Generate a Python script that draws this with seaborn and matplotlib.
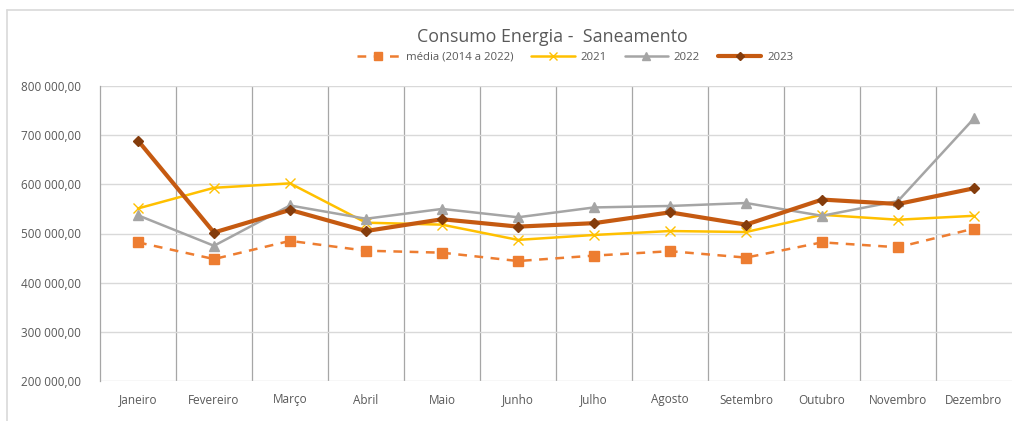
import numpy as np
import pandas as pd
import seaborn as sns
import matplotlib.pyplot as plt
from matplotlib.lines import Line2D
from matplotlib.ticker import FuncFormatter

MESES = ["Janeiro", "Fevereiro", "Março", "Abril", "Maio", "Junho", "Julho",
         "Agosto", "Setembro", "Outubro", "Novembro", "Dezembro"]

media = [482000, 448000, 485000, 465000, 461000, 444000, 455000, 464000, 451000, 482000, 472000, 510000]
v2021 = [551000, 593000, 602000, 522000, 518000, 487000, 497000, 505000, 503000, 538000, 528000, 536000]
v2022 = [537000, 475000, 557000, 530000, 550000, 533000, 553000, 556000, 562000, 536000, 566000, 734000]
v2023 = [689000, 502000, 548000, 505000, 529000, 514000, 521000, 543000, 518000, 569000, 560000, 592000]

SERIES = ["média (2014 a 2022)", "2021", "2022", "2023"]

df = pd.DataFrame({
    "mes": list(range(12)) * 4,
    "valor": media + v2021 + v2022 + v2023,
    "serie": np.repeat(SERIES, 12),
})

sns.set_style("white")
plt.rcParams["font.family"] = ["Open Sans", "DejaVu Sans"]

fig = plt.figure(figsize=(10.14, 4.21), dpi=100)
ax = fig.add_axes([100 / 1014, 40 / 421, 912 / 1014, 295 / 421])

# estilo de cada série (cor, marcador, espessura)
estilos = {
    "média (2014 a 2022)": dict(color="#ED7D31", marker="s", ls=(0, (3.5, 3)), lw=1.8, ms=6.5, mfc="#ED7D31", mec="#ED7D31"),
    "2021": dict(color="#FFC000", marker="x", ls="-", lw=1.8, ms=6.5, mfc="#FFC000", mec="#FFC000"),
    "2022": dict(color="#A5A5A5", marker="^", ls="-", lw=1.8, ms=6.5, mfc="#A5A5A5", mec="#A5A5A5"),
    "2023": dict(color="#C55A11", marker="D", ls="-", lw=3.0, ms=5.5, mfc="#843C0C", mec="#843C0C"),
}

handles = []
for s in SERIES:
    st = estilos[s]
    sub = df[df["serie"] == s]
    sns.lineplot(data=sub, x="mes", y="valor", ax=ax, color=st["color"],
                 linewidth=st["lw"], linestyle=st["ls"], marker=st["marker"],
                 markersize=st["ms"], markerfacecolor=st["mfc"],
                 markeredgecolor=st["mec"], markeredgewidth=1.0, zorder=3)
    handles.append(Line2D([], [], color=st["color"], lw=st["lw"], ls=st["ls"],
                          marker=st["marker"], ms=st["ms"] - 1, mfc=st["mfc"],
                          mec=st["mec"], label=s))

ax.set_xlim(-0.5, 11.5)
ax.set_ylim(200000, 800000)
ax.set_yticks(range(200000, 800001, 100000))
ax.yaxis.set_major_formatter(FuncFormatter(lambda v, p: f"{int(v):,}".replace(",", " ") + ",00"))
ax.set_xticks(range(12))
ax.set_xticklabels(MESES)
ax.set_xticks(np.arange(0.5, 11, 1), minor=True)

ax.grid(axis="y", which="major", color="#D9D9D9", lw=1.0)
ax.grid(axis="x", which="minor", color="#A6A6A6", lw=0.9)
ax.grid(axis="x", which="major", visible=False)
ax.tick_params(axis="both", which="both", length=0, colors="#595959", labelsize=8.5)
ax.tick_params(axis="x", pad=9)
ax.tick_params(axis="y", pad=14)
ax.set_xlabel("")
ax.set_ylabel("")
for sp in ["top", "right", "bottom"]:
    ax.spines[sp].set_visible(False)
ax.spines["left"].set_color("#A6A6A6")
ax.spines["left"].set_linewidth(0.9)

fig.text(0.545, 0.912, "Consumo Energia -  Saneamento", ha="center", va="center",
         fontsize=12.8, color="#595959")
fig.legend(handles=handles, loc="center", bbox_to_anchor=(0.567, 0.864), ncol=4,
           frameon=False, fontsize=8.2, handlelength=3.8, columnspacing=1.6,
           handletextpad=0.5, labelcolor="#595959")

# moldura da área do gráfico
fig.add_artist(Line2D([7 / 1014, 1], [1 - 10 / 421, 1 - 10 / 421], color="#D9D9D9", lw=1.2))
fig.add_artist(Line2D([7 / 1014, 7 / 1014], [0, 1 - 10 / 421], color="#D9D9D9", lw=1.2))

fig.savefig("out.png", dpi=100)
